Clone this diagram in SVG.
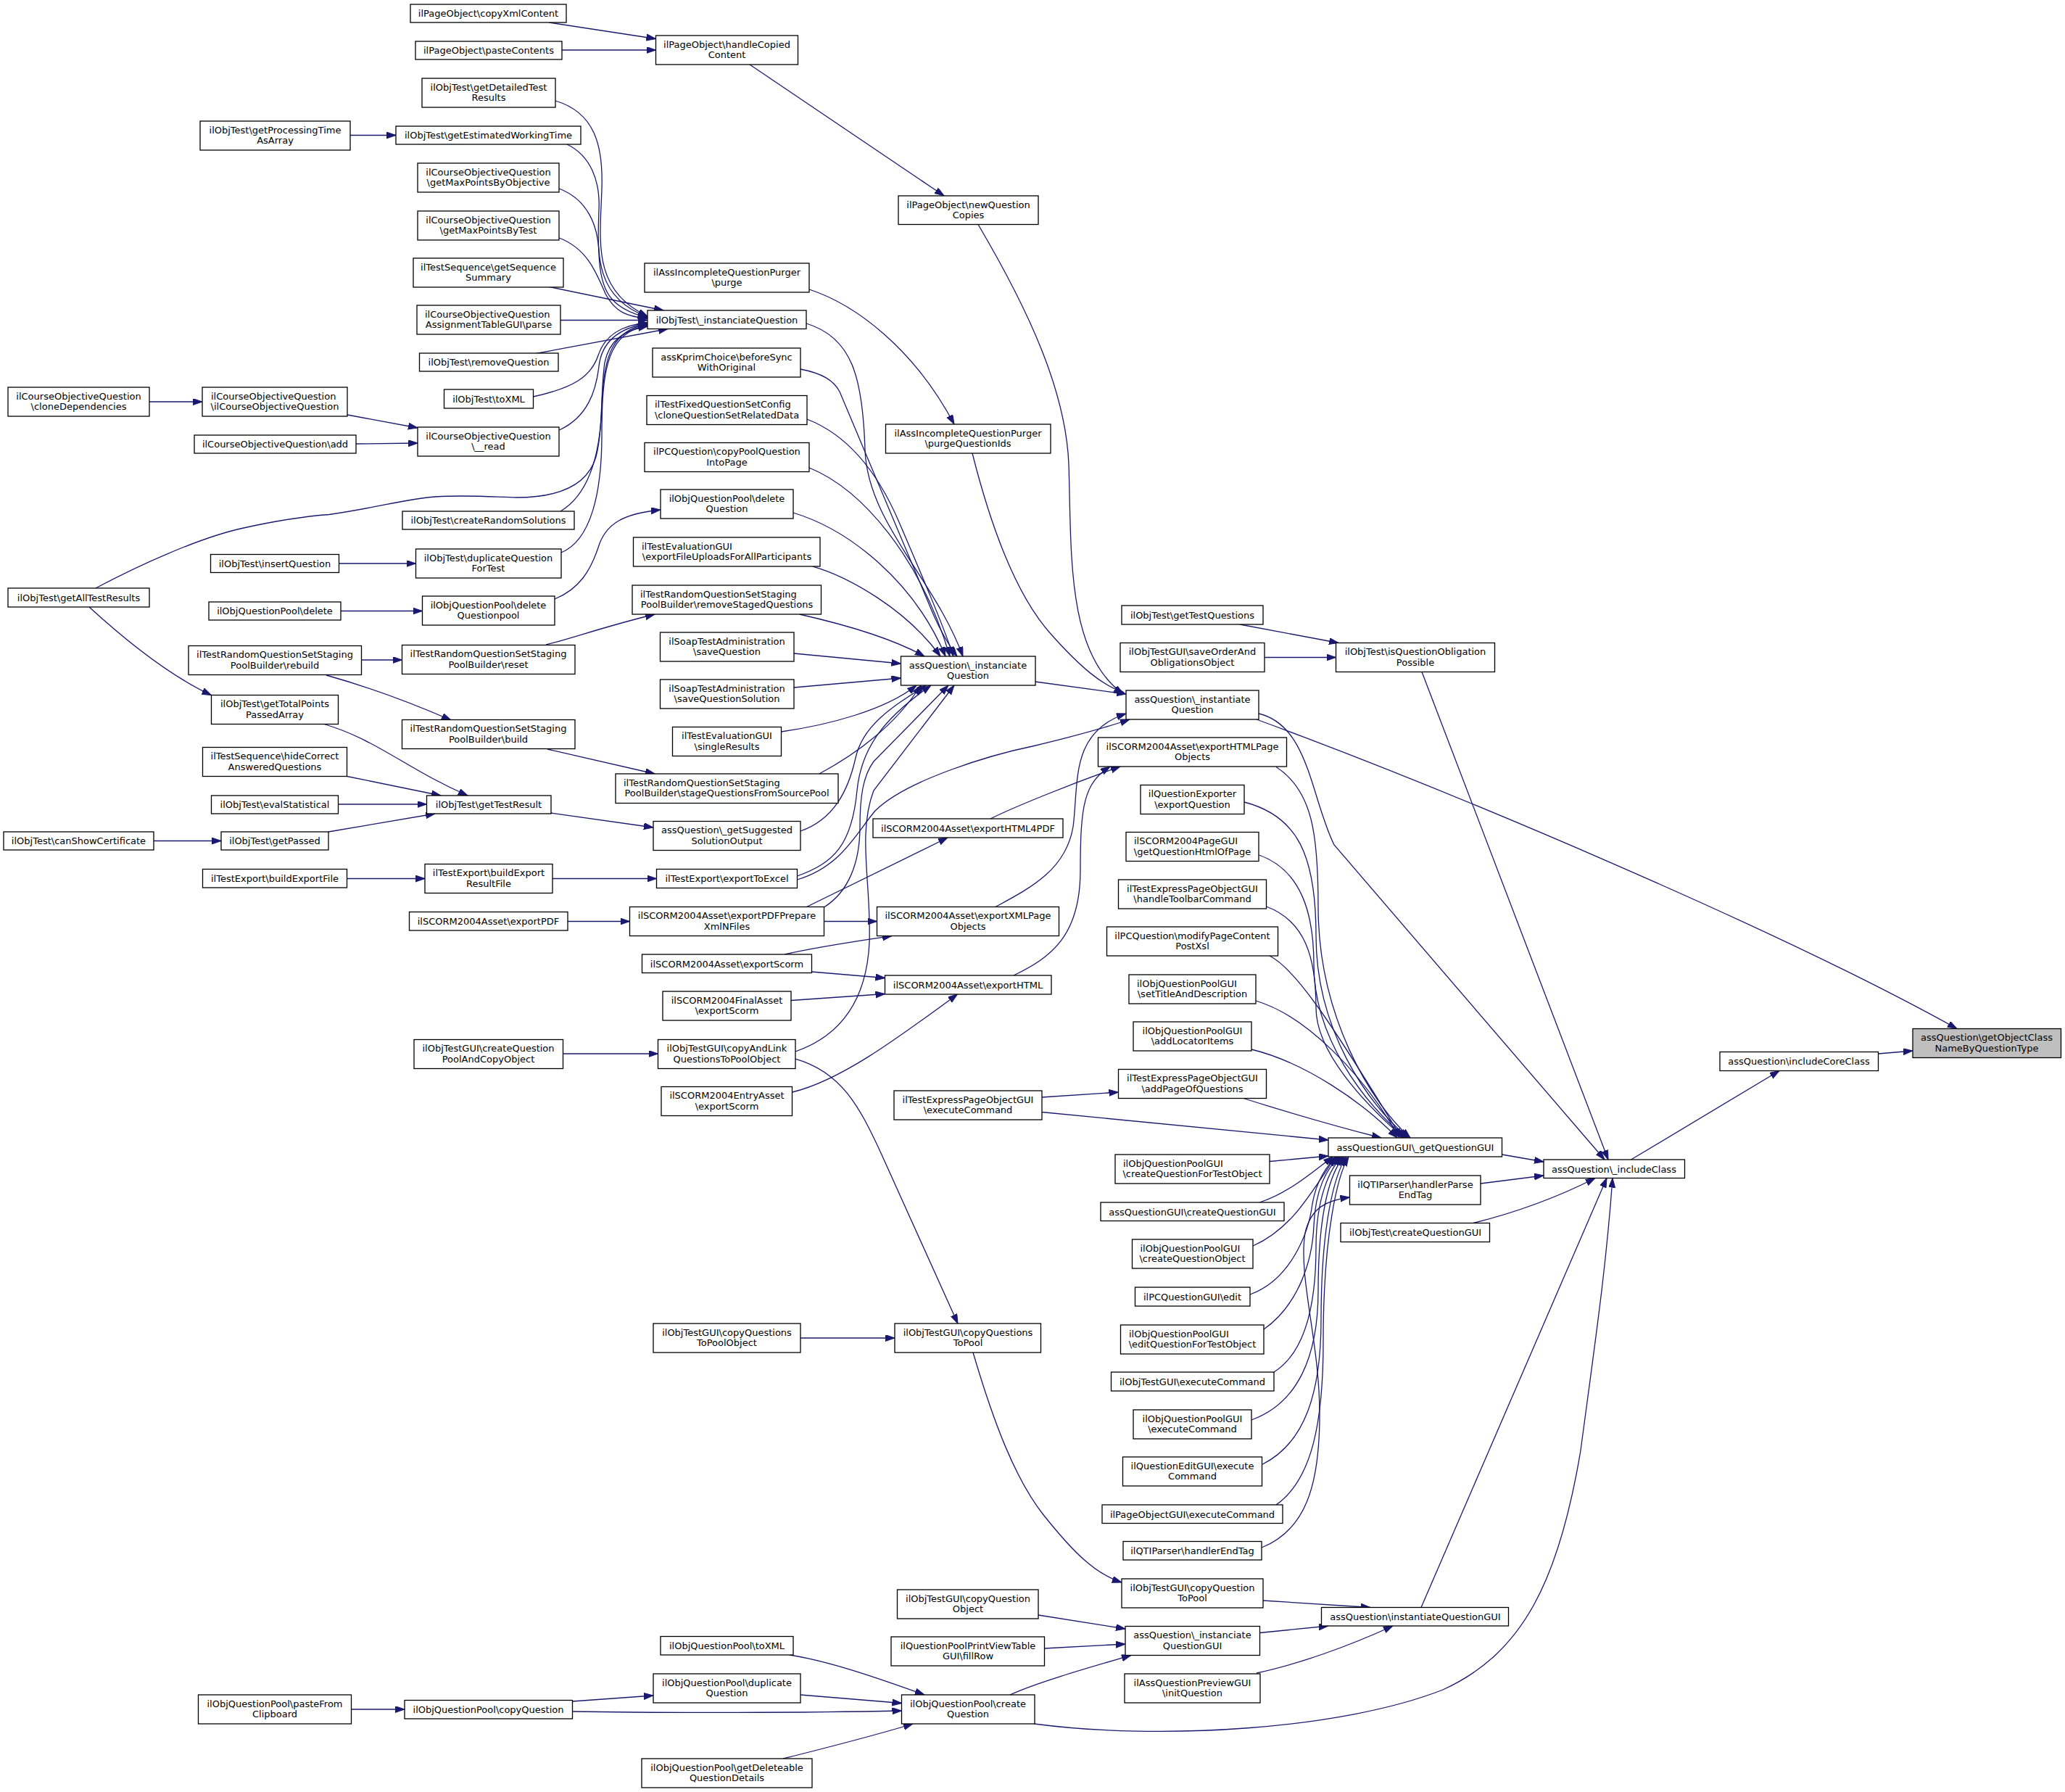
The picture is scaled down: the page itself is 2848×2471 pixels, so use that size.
<svg xmlns="http://www.w3.org/2000/svg" width="2848" height="2471" viewBox="0 0 2848 2471">
<style>
.n rect{fill:#fff;stroke:#000;stroke-width:1.3}
.n text{font-family:"DejaVu Sans","Liberation Sans",sans-serif;font-size:13px;fill:#000;text-anchor:middle}
.n text.l{text-anchor:start}
.n.hl rect{fill:#bfbfbf}
.e path{fill:none;stroke:#191970;stroke-width:1.3;marker-end:url(#a)}
</style>
<defs>
<marker id="a" markerUnits="userSpaceOnUse" markerWidth="14" markerHeight="10" refX="13" refY="4.5" orient="auto"><path d="M0,0 L13,4.5 L0,9 z" fill="#191970" stroke="#191970" stroke-width="1"/></marker>
</defs>
<rect x="0" y="0" width="2848" height="2471" fill="#fff"/>
<g id="edges" class="e">
<path d="M757,31 L904.5,53.5"/>
<path d="M775,69 L904.5,69"/>
<path d="M1034,89 L1302,270"/>
<path d="M483,186.5 L546,186.5"/>
<path d="M206,554 L279,554"/>
<path d="M479,572 L576,590"/>
<path d="M491,612 L576,611"/>
<path d="M467.5,777 L573.5,777"/>
<path d="M470,842.5 L582.5,842.5"/>
<path d="M498.5,910 L554.5,910"/>
<path d="M450,931 C500,945 560,966 622,993"/>
<path d="M123,837 C170,880 230,930 291.5,958.5"/>
<path d="M447,998.5 C520,1020 560,1060 645,1097"/>
<path d="M478.5,1070.5 L608,1097"/>
<path d="M466.5,1109 L588.5,1109"/>
<path d="M453,1147 L600,1122"/>
<path d="M212,1159.5 L305,1159.5"/>
<path d="M478.5,1211.5 L586,1211.5"/>
<path d="M484.5,2357 L558,2357"/>
<path d="M766,139 C820,155 832,200 830,260 C828,330 815,400 893,436"/>
<path d="M782,199 C815,215 828,250 826,290 C824,350 820,410 893,437"/>
<path d="M771,260 C810,275 825,310 826,350 C828,400 840,425 893,438"/>
<path d="M771,328 C810,343 822,375 835,405 C848,430 865,437 893,439"/>
<path d="M757,395.5 L915,428"/>
<path d="M773,441.5 L893,441.5"/>
<path d="M739,487.5 L921,453.5"/>
<path d="M735.5,547 C790,535 815,520 825,490 C835,460 860,448 893,445"/>
<path d="M771.5,593 C810,575 822,540 826,505 C830,470 855,452 893,446"/>
<path d="M773,705 C815,680 828,620 830,560 C832,490 845,455 893,447"/>
<path d="M774,762 C815,745 830,680 830,600 C830,500 840,460 893,448"/>
<path d="M132,811 C200,775 280,740 336,728 C390,716 420,712 454,709.5 C520,700 560,688 600,685 C650,682 690,686 712,686 C770,686 810,670 822,630 C832,590 828,540 834,500 C840,470 860,455 893,450"/>
<path d="M765,826 C800,812 815,785 825,755 C835,722 860,708 911,703"/>
<path d="M753,889 C790,880 830,865 903,847"/>
<path d="M755,1033 L903,1067"/>
<path d="M760,1121 L901,1141"/>
<path d="M762,1211.5 L905.5,1211.5"/>
<path d="M783,1270.5 L868.5,1270.5"/>
<path d="M776.5,1453 L907.5,1453"/>
<path d="M789.5,2346 L901,2338"/>
<path d="M789.5,2360 C900,2362 1100,2362 1243.5,2359"/>
<path d="M1116,399 C1180,420 1260,480 1316,585"/>
<path d="M1112,446 C1175,465 1190,520 1193,620 C1196,720 1290,800 1328,905"/>
<path d="M1104,509 C1135,515 1150,525 1158,540 L1280,830 C1292,860 1305,885 1320,905"/>
<path d="M1113,578 C1170,600 1210,650 1240,720 C1270,790 1300,860 1315,905"/>
<path d="M1116,645 C1190,675 1270,770 1310,905"/>
<path d="M1094,707 C1170,730 1260,800 1304,905"/>
<path d="M1121,781 C1170,795 1250,840 1297,905"/>
<path d="M1102.5,847 C1160,860 1230,880 1275,905"/>
<path d="M1095,901 L1242.5,915"/>
<path d="M1095,948 L1242.5,935"/>
<path d="M1077.5,1009 C1140,1000 1220,980 1264,945"/>
<path d="M1130,1067 C1180,1040 1235,1000 1270,945"/>
<path d="M1104,1146 C1150,1130 1170,1090 1180,1045 C1190,1000 1230,975 1277,945"/>
<path d="M1099.5,1208 C1150,1190 1175,1165 1182,1090 C1188,1030 1220,990 1284,945"/>
<path d="M1099.5,1213 C1160,1195 1180,1150 1207,1118 C1250,1075 1370,1040 1424,1029 C1470,1018 1520,1005 1558,992"/>
<path d="M1136.5,1251 C1170,1230 1186,1190 1186,1140 C1186,1100 1190,1070 1205,1050 L1308,945"/>
<path d="M1097,1450 C1160,1428 1195,1380 1199,1300 C1202,1220 1182,1150 1205,1090 L1316,945"/>
<path d="M1111.5,1251 L1307,1155"/>
<path d="M1136.5,1270.5 L1209.5,1270.5"/>
<path d="M1082,1316 C1130,1305 1180,1298 1230,1290.5"/>
<path d="M1119.5,1340 L1220.5,1348.5"/>
<path d="M1091,1379.5 L1220.5,1370.5"/>
<path d="M1092.5,1506 C1160,1490 1240,1430 1320.5,1371"/>
<path d="M1097,1460 C1160,1478 1185,1525 1215,1590 L1321,1825"/>
<path d="M1104,1845 L1234,1845"/>
<path d="M1089,2282 C1140,2290 1200,2310 1275,2337"/>
<path d="M1104,2337 L1243.5,2348.5"/>
<path d="M1080,2425 C1140,2410 1200,2395 1259,2377"/>
<path d="M1349,309.5 C1420,430 1470,540 1474,640 C1478,760 1470,900 1549,957"/>
<path d="M1341,625 C1365,720 1400,820 1450,875 C1490,920 1520,945 1550,955"/>
<path d="M1428,940 L1553,957"/>
<path d="M1366,1129 C1400,1112 1480,1080 1545,1057"/>
<path d="M1373,1250.5 C1420,1225 1470,1200 1480,1140 C1488,1080 1475,1010 1553,984"/>
<path d="M1398,1345 C1450,1320 1490,1290 1490,1200 C1490,1110 1495,1080 1531,1057"/>
<path d="M1437,1513 L1542.5,1506"/>
<path d="M1437,1533.5 L1832,1572"/>
<path d="M1342,1865 C1370,1960 1400,2040 1440,2090 C1480,2140 1510,2170 1547,2182"/>
<path d="M1432,2227 L1552,2246"/>
<path d="M1440.5,2273 L1552,2267"/>
<path d="M1393,2337 C1430,2320 1500,2300 1560,2282.5"/>
<path d="M1426.5,2377 C1600,2400 1850,2385 1990,2330 C2100,2280 2150,2180 2180,2000 C2200,1850 2215,1750 2224,1624.5"/>
<path d="M1710,861 L1846,886.5"/>
<path d="M1744,906.5 L1842.5,906.5"/>
<path d="M1733,992 C2000,1090 2450,1280 2699,1418.5"/>
<path d="M1736,984 C1805,1000 1808,1100 1840,1165 L2213,1599"/>
<path d="M1961,926.5 L2218,1599"/>
<path d="M2071.5,1592 L2129,1602"/>
<path d="M2042,1632 L2129,1621"/>
<path d="M2032,1686.5 C2090,1672 2150,1650 2200,1624.5"/>
<path d="M1960,2216.5 L2216,1624.5"/>
<path d="M2249.5,1599 L2454,1476.5"/>
<path d="M2590.5,1453 L2638,1449"/>
<path d="M1742,2207 L1890,2216.5"/>
<path d="M1737.5,2251.5 L1832,2242"/>
<path d="M1733,2307 C1790,2295 1860,2270 1921,2242"/>
<path d="M1740,2134 C1800,2110 1820,2050 1820,1950 C1820,1850 1790,1760 1800,1700 C1808,1665 1830,1655 1861.5,1651"/>
<path d="M1760,1057.5 C1810,1090 1818,1150 1818,1250 C1818,1400 1890,1520 1945,1569"/>
<path d="M1716,1106 C1790,1125 1815,1180 1815,1290 C1815,1420 1885,1520 1942,1569"/>
<path d="M1736.5,1179 C1795,1200 1812,1260 1812,1330 C1812,1430 1880,1520 1939,1569"/>
<path d="M1746.5,1250 C1800,1270 1815,1320 1815,1390 C1815,1450 1880,1520 1936,1569"/>
<path d="M1751,1318 C1785,1335 1830,1400 1933,1569"/>
<path d="M1732,1380 C1800,1400 1880,1480 1930,1569"/>
<path d="M1726,1447 C1800,1465 1880,1520 1927,1569"/>
<path d="M1715,1514.5 C1780,1535 1850,1555 1905,1569"/>
<path d="M1751,1601.5 L1832,1594"/>
<path d="M1737,1658 C1770,1648 1800,1625 1838,1595"/>
<path d="M1728,1718 C1780,1695 1805,1650 1842,1595"/>
<path d="M1724,1785 C1780,1765 1805,1700 1810,1660 C1815,1630 1830,1605 1845,1595"/>
<path d="M1743,1833 C1790,1800 1810,1740 1812,1690 C1814,1640 1830,1610 1848,1595"/>
<path d="M1757,1892 C1800,1865 1815,1800 1815,1720 C1815,1650 1835,1610 1851,1595"/>
<path d="M1726,1958 C1790,1935 1818,1870 1818,1780 C1818,1670 1835,1615 1854,1595"/>
<path d="M1740.5,2019.5 C1800,1990 1822,1920 1822,1820 C1822,1690 1840,1620 1857,1595"/>
<path d="M1760,2075 C1810,2040 1825,1960 1825,1850 C1825,1700 1845,1620 1860,1595"/>
</g>
<g id="A1" class="n"><rect x="11" y="534" width="195" height="40"/><text x="108.5" y="550.5">ilCourseObjectiveQuestion</text><text x="108.5" y="565">\cloneDependencies</text></g>
<g id="A2" class="n"><rect x="11" y="811" width="195" height="26"/><text x="108.5" y="828.5">ilObjTest\getAllTestResults</text></g>
<g id="A3" class="n"><rect x="5" y="1147" width="207" height="25"/><text x="108.5" y="1164">ilObjTest\canShowCertificate</text></g>
<g id="B1" class="n"><rect x="276" y="167" width="207" height="40"/><text x="379.5" y="183.5">ilObjTest\getProcessingTime</text><text x="379.5" y="198">AsArray</text></g>
<g id="B2" class="n"><rect x="279" y="534" width="200" height="40"/><text class="l" x="291" y="550.5">ilCourseObjectiveQuestion</text><text x="379" y="565">\ilCourseObjectiveQuestion</text></g>
<g id="B3" class="n"><rect x="268" y="600" width="223" height="25"/><text x="379.5" y="617">ilCourseObjectiveQuestion\add</text></g>
<g id="B4" class="n"><rect x="290.5" y="764.5" width="177" height="25"/><text x="379" y="781.5">ilObjTest\insertQuestion</text></g>
<g id="B5" class="n"><rect x="288" y="830" width="182" height="25"/><text x="379" y="847">ilObjQuestionPool\delete</text></g>
<g id="B6" class="n"><rect x="260" y="890.5" width="238.5" height="40"/><text x="379" y="907">ilTestRandomQuestionSetStaging</text><text x="379" y="921.5">PoolBuilder\rebuild</text></g>
<g id="B7" class="n"><rect x="291.5" y="958.5" width="175" height="40"/><text x="379" y="975">ilObjTest\getTotalPoints</text><text x="379" y="989.5">PassedArray</text></g>
<g id="B8" class="n"><rect x="279.5" y="1030.5" width="199" height="40"/><text x="379" y="1047">ilTestSequence\hideCorrect</text><text x="379" y="1061.5">AnsweredQuestions</text></g>
<g id="B9" class="n"><rect x="291.5" y="1097" width="175" height="25"/><text x="379" y="1114">ilObjTest\evalStatistical</text></g>
<g id="B10" class="n"><rect x="305" y="1147" width="148" height="25"/><text x="379" y="1164">ilObjTest\getPassed</text></g>
<g id="B11" class="n"><rect x="279.5" y="1198.5" width="199" height="25.5"/><text x="379" y="1216">ilTestExport\buildExportFile</text></g>
<g id="B12" class="n"><rect x="273.5" y="2337" width="211" height="40"/><text x="379" y="2353.5">ilObjQuestionPool\pasteFrom</text><text x="379" y="2368">Clipboard</text></g>
<g id="C1" class="n"><rect x="566" y="6" width="215" height="25"/><text x="673.5" y="23">ilPageObject\copyXmlContent</text></g>
<g id="C2" class="n"><rect x="573" y="57" width="202" height="25"/><text x="674" y="74">ilPageObject\pasteContents</text></g>
<g id="C3" class="n"><rect x="582" y="108" width="184" height="40"/><text x="674" y="124.5">ilObjTest\getDetailedTest</text><text x="674" y="139">Results</text></g>
<g id="C4" class="n"><rect x="546" y="174" width="255" height="25"/><text x="673.5" y="191">ilObjTest\getEstimatedWorkingTime</text></g>
<g id="C5" class="n"><rect x="576" y="225" width="195" height="40"/><text x="673.5" y="241.5">ilCourseObjectiveQuestion</text><text x="673.5" y="256">\getMaxPointsByObjective</text></g>
<g id="C6" class="n"><rect x="576" y="291" width="195" height="40"/><text x="673.5" y="307.5">ilCourseObjectiveQuestion</text><text x="673.5" y="322">\getMaxPointsByTest</text></g>
<g id="C7" class="n"><rect x="570" y="356" width="207" height="40"/><text x="673.5" y="372.5">ilTestSequence\getSequence</text><text x="673.5" y="387">Summary</text></g>
<g id="C8" class="n"><rect x="575" y="421" width="198" height="40"/><text class="l" x="586" y="437.5">ilCourseObjectiveQuestion</text><text x="674" y="452">AssignmentTableGUI\parse</text></g>
<g id="C9" class="n"><rect x="578.5" y="487" width="191.5" height="25"/><text x="674" y="504">ilObjTest\removeQuestion</text></g>
<g id="C10" class="n"><rect x="612.5" y="537" width="123" height="26"/><text x="674" y="554.5">ilObjTest\toXML</text></g>
<g id="C11" class="n"><rect x="576" y="589" width="195" height="40"/><text x="673.5" y="605.5">ilCourseObjectiveQuestion</text><text x="673.5" y="620">\__read</text></g>
<g id="C12" class="n"><rect x="555" y="705" width="237" height="25"/><text x="673.5" y="722">ilObjTest\createRandomSolutions</text></g>
<g id="C13" class="n"><rect x="573.5" y="757" width="200.5" height="40"/><text x="673.5" y="773.5">ilObjTest\duplicateQuestion</text><text x="673.5" y="788">ForTest</text></g>
<g id="C14" class="n"><rect x="582.5" y="822" width="182.5" height="40"/><text x="673.5" y="838.5">ilObjQuestionPool\delete</text><text x="673.5" y="853">Questionpool</text></g>
<g id="C15" class="n"><rect x="554.5" y="889.5" width="238.5" height="40"/><text x="673.5" y="906">ilTestRandomQuestionSetStaging</text><text x="673.5" y="920.5">PoolBuilder\reset</text></g>
<g id="C16" class="n"><rect x="554.5" y="992.5" width="238.5" height="40"/><text x="673.5" y="1009">ilTestRandomQuestionSetStaging</text><text x="673.5" y="1023.5">PoolBuilder\build</text></g>
<g id="C17" class="n"><rect x="588.5" y="1097" width="171.5" height="25"/><text x="674" y="1114">ilObjTest\getTestResult</text></g>
<g id="C18" class="n"><rect x="586" y="1191.5" width="176" height="40"/><text x="674" y="1208">ilTestExport\buildExport</text><text x="674" y="1222.5">ResultFile</text></g>
<g id="C19" class="n"><rect x="564.5" y="1257.5" width="218.5" height="25.5"/><text x="673.5" y="1275">ilSCORM2004Asset\exportPDF</text></g>
<g id="C20" class="n"><rect x="571" y="1433.5" width="205.5" height="40"/><text x="673.5" y="1450">ilObjTestGUI\createQuestion</text><text x="673.5" y="1464.5">PoolAndCopyObject</text></g>
<g id="C21" class="n"><rect x="558" y="2344.5" width="231.5" height="25.5"/><text x="673.5" y="2362">ilObjQuestionPool\copyQuestion</text></g>
<g id="D1" class="n"><rect x="904.5" y="49" width="196" height="40"/><text x="1002.5" y="65.5">ilPageObject\handleCopied</text><text x="1002.5" y="80">Content</text></g>
<g id="D2" class="n"><rect x="889" y="363" width="227" height="40"/><text x="1002.5" y="379.5">ilAssIncompleteQuestionPurger</text><text x="1002.5" y="394">\purge</text></g>
<g id="D3" class="n"><rect x="893" y="428" width="219" height="25.5"/><text x="1002.5" y="445.5">ilObjTest\_instanciateQuestion</text></g>
<g id="D4" class="n"><rect x="900" y="480" width="204" height="40"/><text x="1002" y="496.5">assKprimChoice\beforeSync</text><text x="1002" y="511">WithOriginal</text></g>
<g id="D5" class="n"><rect x="892" y="545.5" width="221" height="40"/><text class="l" x="903" y="562">ilTestFixedQuestionSetConfig</text><text x="1002.5" y="576.5">\cloneQuestionSetRelatedData</text></g>
<g id="D6" class="n"><rect x="889" y="610.5" width="227" height="40"/><text x="1002.5" y="627">ilPCQuestion\copyPoolQuestion</text><text x="1002.5" y="641.5">IntoPage</text></g>
<g id="D7" class="n"><rect x="911" y="675" width="183" height="40"/><text x="1002.5" y="691.5">ilObjQuestionPool\delete</text><text x="1002.5" y="706">Question</text></g>
<g id="D8" class="n"><rect x="873.5" y="741" width="257.5" height="40"/><text class="l" x="885" y="757.5">ilTestEvaluationGUI</text><text x="1002.5" y="772">\exportFileUploadsForAllParticipants</text></g>
<g id="D9" class="n"><rect x="872" y="807" width="260.5" height="40"/><text class="l" x="883" y="823.5">ilTestRandomQuestionSetStaging</text><text x="1002.5" y="838">PoolBuilder\removeStagedQuestions</text></g>
<g id="D10" class="n"><rect x="910.5" y="872" width="184.5" height="40"/><text x="1002.5" y="888.5">ilSoapTestAdministration</text><text x="1002.5" y="903">\saveQuestion</text></g>
<g id="D11" class="n"><rect x="910.5" y="937" width="184.5" height="40"/><text x="1002.5" y="953.5">ilSoapTestAdministration</text><text x="1002.5" y="968">\saveQuestionSolution</text></g>
<g id="D12" class="n"><rect x="927.5" y="1002.5" width="150" height="40"/><text x="1002.5" y="1019">ilTestEvaluationGUI</text><text x="1002.5" y="1033.5">\singleResults</text></g>
<g id="D13" class="n"><rect x="849" y="1067" width="307" height="40.5"/><text class="l" x="860" y="1083.5">ilTestRandomQuestionSetStaging</text><text x="1002.5" y="1098">PoolBuilder\stageQuestionsFromSourcePool</text></g>
<g id="D14" class="n"><rect x="901" y="1132.5" width="203" height="40"/><text x="1002.5" y="1149">assQuestion\_getSuggested</text><text x="1002.5" y="1163.5">SolutionOutput</text></g>
<g id="D15" class="n"><rect x="905.5" y="1198.5" width="194" height="26"/><text x="1002.5" y="1216">ilTestExport\exportToExcel</text></g>
<g id="D16" class="n"><rect x="868.5" y="1250.5" width="268" height="40"/><text x="1002.5" y="1267">ilSCORM2004Asset\exportPDFPrepare</text><text x="1002.5" y="1281.5">XmlNFiles</text></g>
<g id="D17" class="n"><rect x="885.5" y="1316" width="234" height="25.5"/><text x="1002.5" y="1333.5">ilSCORM2004Asset\exportScorm</text></g>
<g id="D18" class="n"><rect x="914" y="1367" width="177" height="40"/><text x="1002.5" y="1383.5">ilSCORM2004FinalAsset</text><text x="1002.5" y="1398">\exportScorm</text></g>
<g id="D19" class="n"><rect x="907.5" y="1433.5" width="189.5" height="40"/><text x="1002.5" y="1450">ilObjTestGUI\copyAndLink</text><text x="1002.5" y="1464.5">QuestionsToPoolObject</text></g>
<g id="D20" class="n"><rect x="912" y="1498.5" width="180.5" height="40"/><text x="1002.5" y="1515">ilSCORM2004EntryAsset</text><text x="1002.5" y="1529.5">\exportScorm</text></g>
<g id="D21" class="n"><rect x="901" y="1825" width="203" height="40"/><text x="1002.5" y="1841.5">ilObjTestGUI\copyQuestions</text><text x="1002.5" y="1856">ToPoolObject</text></g>
<g id="D22" class="n"><rect x="911" y="2256.5" width="183" height="25.5"/><text x="1002.5" y="2274">ilObjQuestionPool\toXML</text></g>
<g id="D23" class="n"><rect x="901" y="2308" width="203" height="40"/><text x="1002.5" y="2324.5">ilObjQuestionPool\duplicate</text><text x="1002.5" y="2339">Question</text></g>
<g id="D24" class="n"><rect x="885" y="2425" width="235" height="40"/><text x="1002.5" y="2441.5">ilObjQuestionPool\getDeleteable</text><text x="1002.5" y="2456">QuestionDetails</text></g>
<g id="E1" class="n"><rect x="1239" y="270" width="193" height="39.5"/><text x="1335.5" y="286.5">ilPageObject\newQuestion</text><text x="1335.5" y="301">Copies</text></g>
<g id="E2" class="n"><rect x="1221.5" y="585" width="227.5" height="40"/><text x="1335" y="601.5">ilAssIncompleteQuestionPurger</text><text x="1335" y="616">\purgeQuestionIds</text></g>
<g id="E3" class="n"><rect x="1242.5" y="905" width="185.5" height="40"/><text x="1335" y="921.5">assQuestion\_instanciate</text><text x="1335" y="936">Question</text></g>
<g id="E4" class="n"><rect x="1204" y="1129" width="262" height="26"/><text x="1335" y="1146.5">ilSCORM2004Asset\exportHTML4PDF</text></g>
<g id="E5" class="n"><rect x="1209.5" y="1250.5" width="251" height="40"/><text x="1335" y="1267">ilSCORM2004Asset\exportXMLPage</text><text x="1335" y="1281.5">Objects</text></g>
<g id="E6" class="n"><rect x="1220.5" y="1345" width="229.5" height="26"/><text x="1335" y="1362.5">ilSCORM2004Asset\exportHTML</text></g>
<g id="E7" class="n"><rect x="1233" y="1504" width="204" height="40"/><text x="1335" y="1520.5">ilTestExpressPageObjectGUI</text><text x="1335" y="1535">\executeCommand</text></g>
<g id="E8" class="n"><rect x="1234" y="1825" width="201.5" height="40"/><text x="1335" y="1841.5">ilObjTestGUI\copyQuestions</text><text x="1335" y="1856">ToPool</text></g>
<g id="E9" class="n"><rect x="1237.5" y="2192" width="194.5" height="40"/><text x="1335" y="2208.5">ilObjTestGUI\copyQuestion</text><text x="1335" y="2223">Object</text></g>
<g id="E10" class="n"><rect x="1229" y="2257" width="211.5" height="40"/><text x="1335" y="2273.5">ilQuestionPoolPrintViewTable</text><text x="1335" y="2288">GUI\fillRow</text></g>
<g id="E11" class="n"><rect x="1243.5" y="2337" width="183.5" height="40"/><text x="1335" y="2353.5">ilObjQuestionPool\create</text><text x="1335" y="2368">Question</text></g>
<g id="F1" class="n"><rect x="1547" y="835" width="195" height="26"/><text x="1644.5" y="852.5">ilObjTest\getTestQuestions</text></g>
<g id="F2" class="n"><rect x="1545" y="886.5" width="199" height="40"/><text x="1644.5" y="903">ilObjTestGUI\saveOrderAnd</text><text x="1644.5" y="917.5">ObligationsObject</text></g>
<g id="F3" class="n"><rect x="1553" y="952" width="183" height="40"/><text x="1644.5" y="968.5">assQuestion\_instantiate</text><text x="1644.5" y="983">Question</text></g>
<g id="F4" class="n"><rect x="1514.5" y="1017" width="260" height="40"/><text x="1644.5" y="1033.5">ilSCORM2004Asset\exportHTMLPage</text><text x="1644.5" y="1048">Objects</text></g>
<g id="F5" class="n"><rect x="1573" y="1082.5" width="143" height="40"/><text x="1644.5" y="1099">ilQuestionExporter</text><text x="1644.5" y="1113.5">\exportQuestion</text></g>
<g id="F6" class="n"><rect x="1553" y="1147.5" width="183" height="40"/><text class="l" x="1564" y="1164">ilSCORM2004PageGUI</text><text x="1644.5" y="1178.5">\getQuestionHtmlOfPage</text></g>
<g id="F7" class="n"><rect x="1542.5" y="1213" width="204" height="40"/><text x="1644.5" y="1229.5">ilTestExpressPageObjectGUI</text><text x="1644.5" y="1244">\handleToolbarCommand</text></g>
<g id="F8" class="n"><rect x="1526.5" y="1278" width="236" height="40"/><text x="1644.5" y="1294.5">ilPCQuestion\modifyPageContent</text><text x="1644.5" y="1309">PostXsl</text></g>
<g id="F9" class="n"><rect x="1557" y="1344" width="175" height="40"/><text class="l" x="1568" y="1360.5">ilObjQuestionPoolGUI</text><text x="1644.5" y="1375">\setTitleAndDescription</text></g>
<g id="F10" class="n"><rect x="1563" y="1409" width="163" height="40"/><text x="1644.5" y="1425.5">ilObjQuestionPoolGUI</text><text x="1644.5" y="1440">\addLocatorItems</text></g>
<g id="F11" class="n"><rect x="1542.5" y="1474.5" width="204" height="40"/><text x="1644.5" y="1491">ilTestExpressPageObjectGUI</text><text x="1644.5" y="1505.5">\addPageOfQuestions</text></g>
<g id="F12" class="n"><rect x="1538" y="1592" width="213" height="40"/><text class="l" x="1549" y="1608.5">ilObjQuestionPoolGUI</text><text x="1644.5" y="1623">\createQuestionForTestObject</text></g>
<g id="F13" class="n"><rect x="1518" y="1658" width="253" height="25.5"/><text x="1644.5" y="1675.5">assQuestionGUI\createQuestionGUI</text></g>
<g id="F14" class="n"><rect x="1561.5" y="1709" width="166.5" height="40"/><text class="l" x="1572.5" y="1725.5">ilObjQuestionPoolGUI</text><text x="1644.5" y="1740">\createQuestionObject</text></g>
<g id="F15" class="n"><rect x="1565.5" y="1775" width="158.5" height="26"/><text x="1644.5" y="1792.5">ilPCQuestionGUI\edit</text></g>
<g id="F16" class="n"><rect x="1545.5" y="1827" width="197.5" height="40"/><text class="l" x="1557" y="1843.5">ilObjQuestionPoolGUI</text><text x="1644.5" y="1858">\editQuestionForTestObject</text></g>
<g id="F17" class="n"><rect x="1532.5" y="1892" width="224.5" height="26"/><text x="1644.5" y="1909.5">ilObjTestGUI\executeCommand</text></g>
<g id="F18" class="n"><rect x="1563" y="1944" width="163" height="40"/><text x="1644.5" y="1960.5">ilObjQuestionPoolGUI</text><text x="1644.5" y="1975">\executeCommand</text></g>
<g id="F19" class="n"><rect x="1548.5" y="2009" width="192" height="40"/><text x="1644.5" y="2025.5">ilQuestionEditGUI\execute</text><text x="1644.5" y="2040">Command</text></g>
<g id="F20" class="n"><rect x="1520" y="2075" width="249" height="25.5"/><text x="1644.5" y="2092.5">ilPageObjectGUI\executeCommand</text></g>
<g id="F21" class="n"><rect x="1549" y="2125.5" width="191" height="25.5"/><text x="1644.5" y="2143">ilQTIParser\handlerEndTag</text></g>
<g id="F22" class="n"><rect x="1547" y="2177" width="195" height="40"/><text x="1644.5" y="2193.5">ilObjTestGUI\copyQuestion</text><text x="1644.5" y="2208">ToPool</text></g>
<g id="F23" class="n"><rect x="1552" y="2242.5" width="185.5" height="40"/><text x="1644.5" y="2259">assQuestion\_instanciate</text><text x="1644.5" y="2273.5">QuestionGUI</text></g>
<g id="F24" class="n"><rect x="1551" y="2308" width="187" height="40"/><text x="1644.5" y="2324.5">ilAssQuestionPreviewGUI</text><text x="1644.5" y="2339">\initQuestion</text></g>
<g id="G1" class="n"><rect x="1842.5" y="886.5" width="219" height="40"/><text x="1952" y="903">ilObjTest\isQuestionObligation</text><text x="1952" y="917.5">Possible</text></g>
<g id="G2" class="n"><rect x="1832" y="1569" width="239.5" height="26"/><text x="1952" y="1586.5">assQuestionGUI\_getQuestionGUI</text></g>
<g id="G3" class="n"><rect x="1861.5" y="1621" width="180.5" height="40"/><text x="1952" y="1637.5">ilQTIParser\handlerParse</text><text x="1952" y="1652">EndTag</text></g>
<g id="G4" class="n"><rect x="1849" y="1686.5" width="205.5" height="26"/><text x="1952" y="1704">ilObjTest\createQuestionGUI</text></g>
<g id="G5" class="n"><rect x="1822.5" y="2216.5" width="258" height="25.5"/><text x="1952" y="2234">assQuestion\instantiateQuestionGUI</text></g>
<g id="H1" class="n"><rect x="2129" y="1599" width="194.5" height="25.5"/><text x="2226" y="1616.5">assQuestion\_includeClass</text></g>
<g id="I1" class="n"><rect x="2372" y="1450.5" width="218.5" height="26"/><text x="2481" y="1468">assQuestion\includeCoreClass</text></g>
<g id="J1" class="n hl"><rect x="2638" y="1418.5" width="204.5" height="40"/><text x="2740" y="1435">assQuestion\getObjectClass</text><text x="2740" y="1449.5">NameByQuestionType</text></g>
</svg>
